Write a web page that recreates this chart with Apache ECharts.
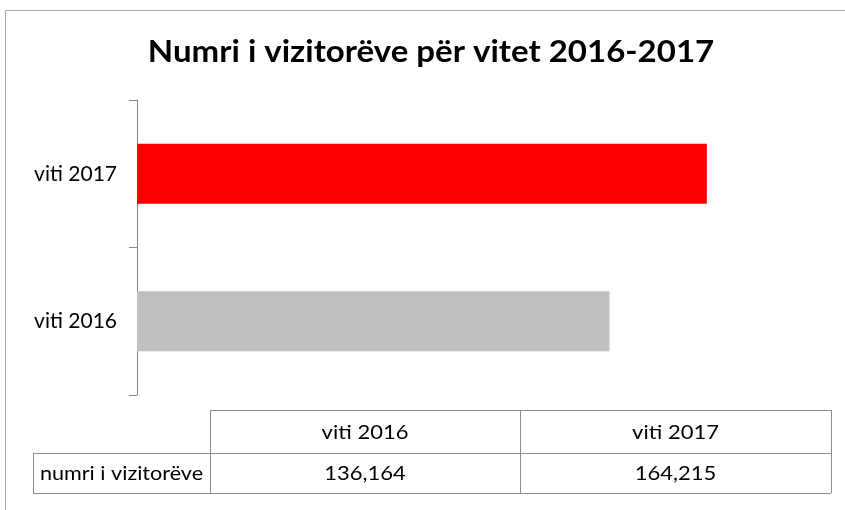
<!DOCTYPE html>
<html>
<head>
<meta charset="utf-8">
<script src="https://cdn.jsdelivr.net/npm/echarts@6/dist/echarts.min.js"></script>
<style>
html,body{margin:0;padding:0;background:#fff;}
#c{width:845px;height:510px;}
</style>
</head>
<body>
<div id="c"></div>
<script>
var titleText = 'Numri i vizitorëve për vitet 2016-2017';
var categories = ['viti 2016', 'viti 2017'];
var values = [136164, 164215];
var barColors = ['#c0c0c0', '#ff0000'];
var rowHeader = 'numri i vizitorëve';
var xMax = 200000;

var FONT = 'Lato';
var chart = echarts.init(document.getElementById('c'), null, {renderer: 'canvas'});

function fmt(v){ return v.toLocaleString('en-US'); }

// table layout
var tY0 = 410, tY1 = 453, tY2 = 493;
var tHx = 33, tC0 = 210, tC1 = 520, tC2 = 831;
var lineColor = '#8c8c8c';
var colX = [tC0, tC1, tC2];

var g = [];
// outer frame
g.push({type:'rect', shape:{x:5.5, y:10.5, width:900, height:600}, style:{fill:'none', stroke:'#a6a6a6', lineWidth:1}, silent:true});
// title
g.push({type:'text', x:431, y:52, scaleX:1.1, style:{text:titleText, font:'bold 30px ' + FONT, fill:'#000', align:'center', verticalAlign:'middle'}});
// table lines
function hl(x1,x2,y){ g.push({type:'line', shape:{x1:x1,y1:y+0.5,x2:x2,y2:y+0.5}, style:{stroke:lineColor, lineWidth:1}}); }
function vl(x,y1,y2){ g.push({type:'line', shape:{x1:x+0.5,y1:y1,x2:x+0.5,y2:y2}, style:{stroke:lineColor, lineWidth:1}}); }
hl(tC0, tC2, tY0);
hl(tHx, tC2, tY1);
hl(tHx, tC2, tY2);
vl(tHx, tY1, tY2);
vl(tC0, tY0, tY2);
vl(tC1, tY0, tY2);
vl(tC2, tY0, tY2);
// table texts
var tf = '20px ' + FONT;
for (var i = 0; i < categories.length; i++) {
  var cx = (colX[i] + colX[i+1]) / 2;
  g.push({type:'text', x:cx, y:(tY0+tY1)/2+1, scaleX:1.1, style:{text:categories[i], font:tf, fill:'#000', align:'center', verticalAlign:'middle'}});
  g.push({type:'text', x:cx, y:(tY1+tY2)/2+1, scaleX:1.1, style:{text:fmt(values[i]), font:tf, fill:'#000', align:'center', verticalAlign:'middle'}});
}
g.push({type:'text', x:(tHx+tC0)/2, y:(tY1+tY2)/2+1, scaleX:1.08, style:{text:rowHeader, font:tf, fill:'#000', align:'center', verticalAlign:'middle'}});

chart.setOption({
  animation: false,
  backgroundColor: '#fff',
  grid: {left: 137, right: 14, top: 100, bottom: 115, containLabel: false},
  xAxis: {type: 'value', min: 0, max: xMax, show: false},
  yAxis: {
    type: 'category',
    data: categories,
    boundaryGap: true,
    axisLine: {show: true, lineStyle: {color: '#868686', width: 1}},
    axisTick: {show: true, length: 8, inside: false, lineStyle: {color: '#868686'}},
    axisLabel: {color: '#000', fontFamily: FONT, fontSize: 21, margin: 20},
    splitLine: {show: false}
  },
  series: [{
    type: 'bar',
    barWidth: 60,
    data: values.map(function(v, i){ return {value: v, itemStyle: {color: barColors[i]}}; })
  }],
  graphic: g
});
</script>
</body>
</html>
